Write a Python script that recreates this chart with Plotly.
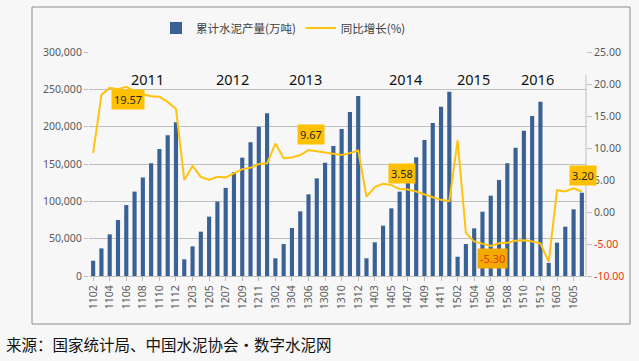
import plotly.graph_objects as go

years = ["11", "12", "13", "14", "15"]
months_full = ["02", "03", "04", "05", "06", "07", "08", "09", "10", "11", "12"]
months_2016 = ["02", "03", "04", "05", "06"]
categories = [y + m for y in years for m in months_full] + ["16" + m for m in months_2016]

production = [
    20500, 37000, 55800, 75000, 95000, 113000, 132000, 151000, 170000, 188500, 206000,
    22300, 39700, 59400, 79500, 99600, 118000, 139000, 158500, 179000, 200000, 218000,
    23700, 42800, 64300, 86600, 109400, 130800, 151700, 174000, 196800, 219600, 241000,
    23700, 45100, 67400, 90600, 113000, 135000, 159000, 182000, 205000, 226700, 246800,
    25800, 42800, 63800, 86100, 107600, 128500, 151000, 171800, 194600, 214200, 233400,
    17500, 44600, 66000, 89300, 111500,
]
growth = [
    9.2, 18.3, 19.4, 19.2, 19.57, 18.9, 18.4, 18.1, 18.0, 17.2, 16.1,
    5.0, 7.2, 5.5, 5.0, 5.5, 5.4, 6.0, 6.7, 6.9, 7.5, 7.6,
    10.7, 8.4, 8.5, 8.9, 9.67, 9.5, 9.3, 9.0, 8.9, 9.2, 9.6,
    2.4, 3.9, 4.4, 4.2, 3.58, 3.5, 3.2, 2.7, 2.3, 1.9, 1.7,
    11.2, -3.3, -4.6, -5.0, -5.30, -4.9, -4.8, -4.5, -4.4, -4.6, -4.9,
    -7.8, 3.4, 3.2, 3.7, 3.20,
]
year_labels = ["2011", "2012", "2013", "2014", "2015", "2016"]
label_cats = ["1106", "1306", "1406", "1506", "1606"]
left_ticks = [0, 50000, 100000, 150000, 200000, 250000, 300000]
right_ticks = [-10, -5, 0, 5, 10, 15, 20, 25]

tick_idx = list(range(0, len(categories), 2))
tick_text = [categories[i] for i in tick_idx]
xs = list(range(len(categories)))

fig = go.Figure()
fig.add_trace(go.Bar(
    x=xs, y=production, name="累计水泥产量(万吨)",
    marker=dict(color="#3A6194", line=dict(width=0)),
))
fig.add_trace(go.Scatter(
    x=xs, y=growth, name="同比增长(%)", yaxis="y2", mode="lines",
    line=dict(color="#FFC20E", width=2),
))

# data labels
for c in label_cats:
    i = categories.index(c)
    v = growth[i]
    below = c in ("1106", "1506")
    neg = v < 0
    fig.add_annotation(
        x=i, y=v, xref="x", yref="y2", text=f"{v:.2f}", showarrow=False,
        yshift=-13 if below else 16,
        xshift=2 if c != "1606" else 1,
        font=dict(size=11, color="#E8380D" if neg else "#262626",
                  family="Noto Sans, Liberation Sans, sans-serif"),
        bgcolor="#F2A900" if neg else "#FFC000", borderpad=2,
    )

# year labels
year_x_px = [129, 214, 305, 405, 492, 556]
for lab, px in zip(year_labels, year_x_px):
    fig.add_annotation(
        x=(px - 89) / 497, y=(276 - 67) / 224, xref="paper", yref="paper",
        text=lab, showarrow=False,
        font=dict(size=14.5, color="#111111", family="Noto Sans, Liberation Sans, sans-serif"),
    )

# source text
fig.add_annotation(
    x=(4 - 89) / 497, y=(276 - 344) / 224, xref="paper", yref="paper",
    xanchor="left", yanchor="middle", text="来源：国家统计局、中国水泥协会·数字水泥网",
    showarrow=False, font=dict(size=15.5, color="#111111", family="Noto Sans CJK SC"),
)

# chart frame
fig.add_shape(type="rect", xref="paper", yref="paper",
              x0=(32 - 89) / 497, x1=(630 - 89) / 497,
              y0=(276 - 324) / 224, y1=(276 - 7) / 224,
              line=dict(color="#8C8C8C", width=1), layer="below")
# right axis line
fig.add_shape(type="line", xref="paper", yref="paper", x0=1, x1=1,
              y0=0, y1=(276 - 75) / 224, line=dict(color="#BFBFBF", width=1))

right_text = []
for t in right_ticks:
    s = f"{t:.2f}"
    if t < 0:
        s = f'<span style="color:#E8380D">{s}</span>'
    right_text.append(s)

tick_font = dict(size=10.5, color="#595959", family="Noto Sans, Liberation Sans, sans-serif")

fig.update_layout(
    width=639, height=361,
    margin=dict(l=89, r=53, t=52, b=85),
    paper_bgcolor="#F7F7F7", plot_bgcolor="#F7F7F7",
    bargap=0.5,
    showlegend=True,
    legend=dict(orientation="h", x=(156 - 89) / 497, y=(276 - 28) / 224,
                xanchor="left", yanchor="middle",
                font=dict(size=11.5, color="#404040", family="Noto Sans CJK SC"),
                bgcolor="rgba(0,0,0,0)"),
    xaxis=dict(tickmode="array", tickvals=tick_idx, ticktext=tick_text,
               tickangle=-90, tickfont=tick_font, showgrid=False, zeroline=False,
               showline=True, linecolor="#BFBFBF", ticks="outside", ticklen=4,
               tickcolor="#BFBFBF", range=[-0.5, len(categories) - 0.5]),
    yaxis=dict(range=[0, 300000], tickvals=left_ticks, tickformat=",",
               tickfont=tick_font, showgrid=True, gridcolor="#BFBFBF", gridwidth=1,
               zeroline=False, showline=False, ticks="outside", ticklen=4,
               tickcolor="#BFBFBF"),
    yaxis2=dict(range=[-10, 25], overlaying="y", side="right", tickmode="array",
                tickvals=right_ticks, ticktext=right_text, tickfont=tick_font,
                showgrid=False, zeroline=False, showline=False, ticks="outside",
                ticklen=5, tickcolor="#BFBFBF"),
)

fig.write_html("out.html", config={"displayModeBar": False},
               post_script="document.body.style.margin='0';document.body.style.background='#F7F7F7';")
